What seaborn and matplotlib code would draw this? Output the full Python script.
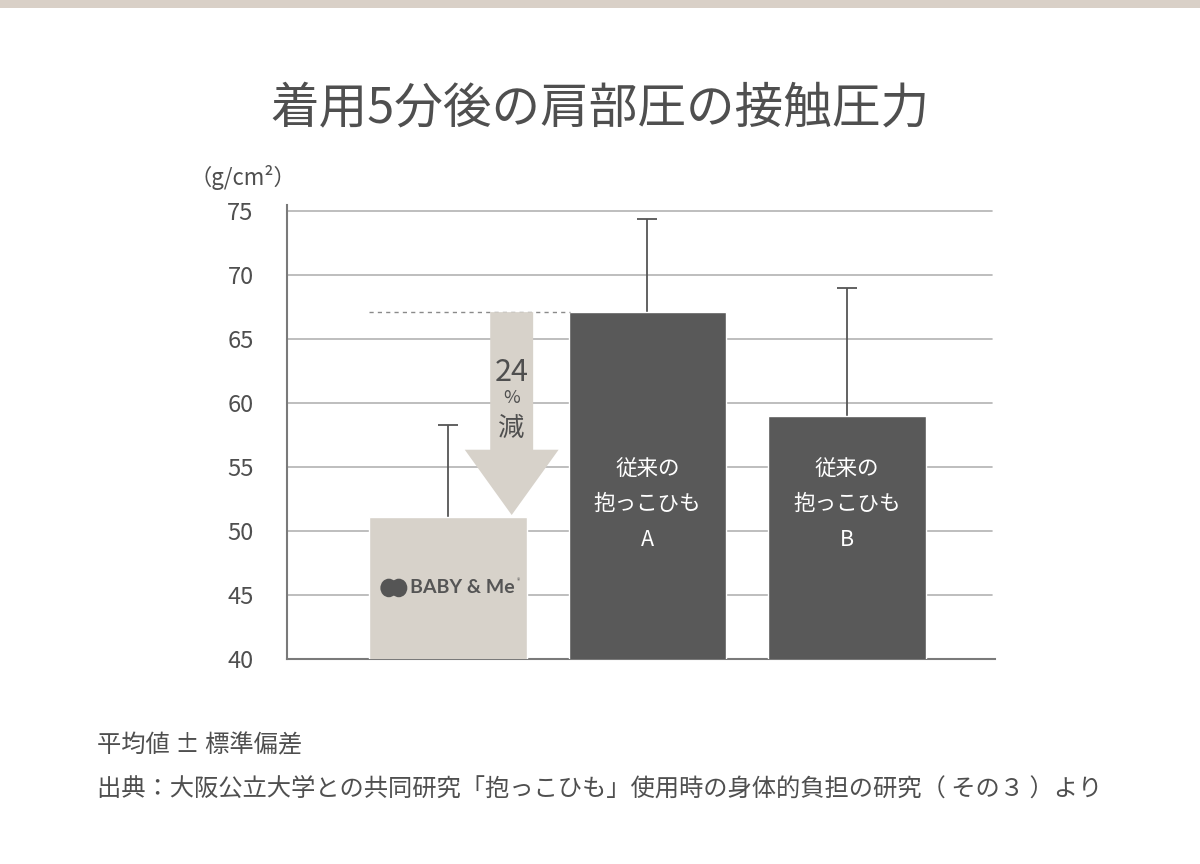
import matplotlib
matplotlib.use("Agg")
import matplotlib.pyplot as plt
import seaborn as sns
from matplotlib.patches import FancyArrow, Ellipse, Rectangle

# ---- data ----
categories = ["BABY&Me", "従来の抱っこひもA", "従来の抱っこひもB"]
bar_labels = ["", "従来の\n抱っこひも\nA", "従来の\n抱っこひも\nB"]
means = [51.1, 67.1, 59.0]
sds = [7.2, 7.3, 10.0]
yticks = [40, 45, 50, 55, 60, 65, 70, 75]
reduction_label = ["24", "%", "減"]
title = "着用5分後の肩部圧の接触圧力"
unit = "（g/cm²）"
note1 = "平均値 ± 標準偏差"
note2 = "出典：大阪公立大学との共同研究「抱っこひも」使用時の身体的負担の研究（ その３ ）より"

sns.set_theme(style="white")
plt.rcParams['font.family'] = ['Noto Sans CJK JP', 'DejaVu Sans']

TXT = "#4f4f4f"
BEIGE = "#d7d2ca"
DARK = "#595959"
GRID = "#b3b3b3"

fig = plt.figure(figsize=(12, 8.64), dpi=100)
fig.patch.set_facecolor("white")
fig.patches.append(Rectangle((0, 1 - 8 / 864), 1, 8 / 864, transform=fig.transFigure,
                             facecolor="#d9d0c7", edgecolor="none", zorder=0))

ax_top_px = 204.6
ax_bot_px = 659
ax = fig.add_axes([287 / 1200, (864 - ax_bot_px) / 864, (995 - 287) / 1200,
                   (ax_bot_px - ax_top_px) / 864])

sns.barplot(x=categories, y=means, hue=categories, palette=[BEIGE, DARK, DARK],
            legend=False, width=0.79, ax=ax, zorder=3, saturation=1)

# symmetric error bars drawn behind the bars: only the upper half shows
ax.errorbar(range(len(means)), means, yerr=sds, fmt="none",
            ecolor="#555555", elinewidth=1.3, capsize=7, capthick=1.3, zorder=2)

ax.set_ylim(40, 75.5)
ax.set_xlim(-0.805, 2.74)
ax.set_yticks(yticks)
ax.set_yticklabels([str(t) for t in yticks], fontsize=17, color=TXT)
ax.set_xticks([])
ax.set_xlabel("")
ax.set_ylabel("")
ax.tick_params(axis="y", length=0, pad=24)
for t in yticks[1:]:
    ax.axhline(t, color=GRID, lw=1.2, zorder=1, xmax=0.996)
for s in ["top", "right"]:
    ax.spines[s].set_visible(False)
for s in ["left", "bottom"]:
    ax.spines[s].set_color("#7a7a7a")
    ax.spines[s].set_linewidth(1.5)

# bar labels
for i, lab in enumerate(bar_labels):
    if lab:
        ax.text(i, 52.1, lab, ha="center", va="center", color="white",
                fontsize=15.5, linespacing=1.8, zorder=5)

# reference dashed line and arrow
ax.plot([-0.395, 0.61], [means[1], means[1]], ls=(0, (3, 3)), color="#8a8a8a",
        lw=1.0, zorder=4)
ax_x = 0.32
arrow = FancyArrow(ax_x, means[1], 0, -(means[1] - 51.25), width=0.215,
                   head_width=0.47, head_length=5.1, length_includes_head=True,
                   color=BEIGE, zorder=4, lw=0)
ax.add_patch(arrow)
ax.text(ax_x, 62.4, reduction_label[0], ha="center", va="center", fontsize=22,
        color=TXT, zorder=5)
ax.text(ax_x, 60.4, reduction_label[1], ha="center", va="center", fontsize=13,
        color=TXT, zorder=5)
ax.text(ax_x, 58.0, reduction_label[2], ha="center", va="center", fontsize=19,
        color=TXT, zorder=5)

# logo
ax.add_patch(Ellipse((-0.295, 45.55), 0.085, 1.45, color="#555555", zorder=5, lw=0))
ax.add_patch(Ellipse((-0.245, 45.55), 0.085, 1.45, color="#555555", zorder=5, lw=0))
ax.text(-0.188, 45.55, "BABY & Me", ha="left", va="center", fontsize=14,
        fontweight="bold", color="#555555", family=["Lato", "DejaVu Sans"], zorder=5)
ax.text(0.345, 46.05, "®", ha="left", va="center", fontsize=5, color="#555555", zorder=5)

# texts
fig.text(0.5, 1 - 110 / 864, title, ha="center", va="center", fontsize=35, color=TXT)
fig.text(243 / 1200, 1 - 177 / 864, unit, ha="center", va="center", fontsize=16, color=TXT)
fig.text(97 / 1200, 1 - 745 / 864, note1, ha="left", va="center", fontsize=17.5, color=TXT)
fig.text(97 / 1200, 1 - 789 / 864, note2, ha="left", va="center", fontsize=17.5, color=TXT)

fig.savefig("out.png", dpi=100, facecolor="white")
